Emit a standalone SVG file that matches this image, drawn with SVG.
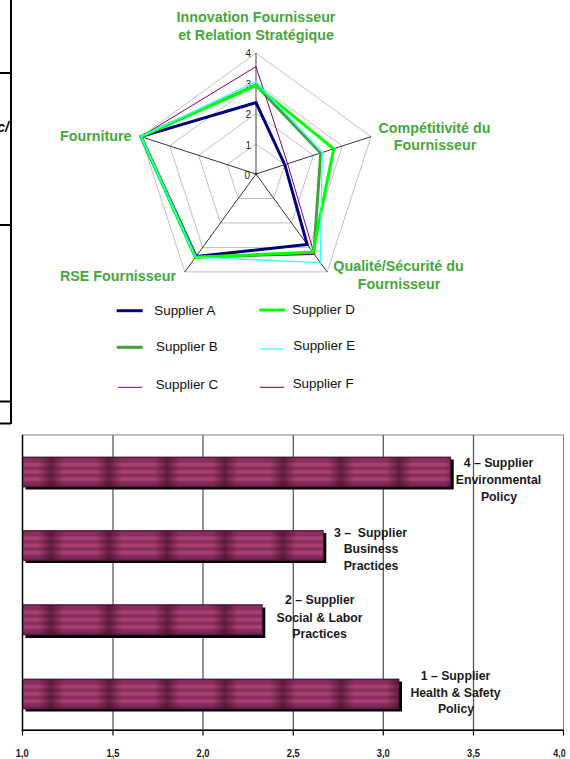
<svg xmlns="http://www.w3.org/2000/svg" width="570" height="759" viewBox="0 0 570 759">
<style>
.axlab{font-family:"Liberation Sans",Arial,sans-serif;font-weight:bold;font-size:14.3px;fill:#46A83A;text-anchor:middle}
.tick{font-family:"Liberation Sans",Arial,sans-serif;font-size:10px;fill:#222;text-anchor:end}
.leg{font-family:"Liberation Sans",Arial,sans-serif;font-size:13.4px;fill:#111}
.grid{fill:none;stroke:#c0c0c0;stroke-width:1}
.spoke{stroke:#000;stroke-width:0.8}
.ser{fill:none;stroke-linejoin:miter}
.blab{font-family:"Liberation Sans",Arial,sans-serif;font-weight:bold;font-size:12.3px;fill:#1a1a1a;text-anchor:middle}
.xlab{font-family:"Liberation Sans Narrow","Liberation Sans",Arial,sans-serif;font-weight:bold;font-size:11.5px;fill:#1a1a1a;text-anchor:middle}
.vg{stroke:#5a5a5a;stroke-width:1.3}
.frame{stroke:#000;stroke-width:2}
.bar{fill:url(#stripes);stroke:#4a1535;stroke-width:0.8}
.band{fill:url(#bands)}
.shadow{fill:#000}
</style>
<defs>
<linearGradient id="stripes" x1="0" y1="0" x2="0" y2="1">
<stop offset="0" stop-color="#5e1d42"/>
<stop offset="0.06" stop-color="#8a2e5f"/>
<stop offset="0.17" stop-color="#8a2e5f"/>
<stop offset="0.22" stop-color="#a8406f"/>
<stop offset="0.29" stop-color="#a8406f"/>
<stop offset="0.34" stop-color="#8a2e5f"/>
<stop offset="0.41" stop-color="#8a2e5f"/>
<stop offset="0.46" stop-color="#a8406f"/>
<stop offset="0.53" stop-color="#a8406f"/>
<stop offset="0.58" stop-color="#8a2e5f"/>
<stop offset="0.65" stop-color="#8a2e5f"/>
<stop offset="0.70" stop-color="#a8406f"/>
<stop offset="0.77" stop-color="#a8406f"/>
<stop offset="0.82" stop-color="#8a2e5f"/>
<stop offset="0.93" stop-color="#7a2855"/>
<stop offset="1" stop-color="#5e1d42"/>
</linearGradient>
<linearGradient id="bandGrad" x1="0" y1="0" x2="1" y2="0">
<stop offset="0" stop-color="#3a0c26" stop-opacity="0"/>
<stop offset="0.28" stop-color="#3a0c26" stop-opacity="0"/>
<stop offset="0.5" stop-color="#3a0c26" stop-opacity="0.6"/>
<stop offset="0.72" stop-color="#3a0c26" stop-opacity="0"/>
<stop offset="1" stop-color="#3a0c26" stop-opacity="0"/>
</linearGradient>
<pattern id="bands" patternUnits="userSpaceOnUse" x="22" y="0" width="58" height="40">
<rect width="58" height="40" fill="url(#bandGrad)"/>
</pattern>
</defs>

<rect width="570" height="759" fill="#fff"/>

<g id="left-table">
<line class="frame" x1="11" y1="0" x2="11" y2="424"/>
<line class="frame" x1="0" y1="73" x2="11" y2="73"/>
<line class="frame" x1="0" y1="225" x2="11" y2="225"/>
<line class="frame" x1="0" y1="401.5" x2="11" y2="401.5"/>
<line class="frame" x1="0" y1="423.5" x2="11" y2="423.5"/>
<text x="9" y="132" font-family="Liberation Sans, Arial, sans-serif" font-weight="bold" font-style="italic" font-size="14" text-anchor="end" fill="#000">c/</text>
</g>

<g id="radar-chart">
<g id="radar-grid">
<polygon class="grid" points="256,143.75 284.77,164.65 273.78,198.47 238.22,198.47 227.23,164.65"/>
<polygon class="grid" points="256,113.5 313.54,155.31 291.56,222.94 220.44,222.94 198.46,155.31"/>
<polygon class="grid" points="256,83.25 342.31,145.96 309.34,247.42 202.66,247.42 169.69,145.96"/>
<polygon class="grid" points="256,53 371.08,136.61 327.12,271.89 184.88,271.89 140.92,136.61"/>
<line class="spoke" x1="256" y1="174" x2="371.08" y2="136.61"/>
<line class="spoke" x1="256" y1="174" x2="327.12" y2="271.89"/>
<line class="spoke" x1="256" y1="174" x2="184.88" y2="271.89"/>
<line class="spoke" x1="256" y1="174" x2="140.92" y2="136.61"/>
<line x1="256" y1="174" x2="256" y2="53" stroke="#808080" stroke-width="1.5"/>
</g>
<g id="radar-ticks">
<text class="tick" x="250" y="178.5">0</text>
<text class="tick" x="251" y="148.5">1</text>
<text class="tick" x="251" y="118">2</text>
<text class="tick" x="251" y="87.5">3</text>
<text class="tick" x="251" y="57.3">4</text>
</g>
<g id="radar-series">
<polygon class="ser" stroke="#000080" stroke-width="3" points="256,102.6 284.8,164.7 307.2,244.5 196.1,256.5 140.9,136.6"/>
<polygon class="ser" stroke="#3FA33A" stroke-width="3" points="256,85.1 320.7,153 313.8,253.5 195.5,257.2 140.9,136.6"/>
<polygon class="ser" stroke="#800080" stroke-width="1" points="256,66.6 287.6,163.7 314.3,254.3 195.5,257.2 140.9,136.6"/>
<polygon class="ser" stroke="#00FF00" stroke-width="3" points="256,85.7 333.7,148.8 312.9,252.3 195.5,257.2 140.9,136.6"/>
<polygon class="ser" stroke="#33FFFF" stroke-width="1.3" points="256,81.7 322.2,152.5 320.4,262.6 195.5,257.2 140.9,136.6"/>
<circle cx="256" cy="174" r="1.3" fill="#800000"/>
</g>
<g id="radar-labels">
<text class="axlab" x="256" y="21.7">Innovation Fournisseur</text>
<text class="axlab" x="256" y="40">et Relation Stratégique</text>
<text class="axlab" x="434.5" y="132.7">Compétitivité du</text>
<text class="axlab" x="435" y="150">Fournisseur</text>
<text class="axlab" x="398.5" y="270.7">Qualité/Sécurité du</text>
<text class="axlab" x="399" y="288.5">Fournisseur</text>
<text class="axlab" x="60" y="140.7" style="text-anchor:start">Fourniture</text>
<text class="axlab" x="60" y="280.7" style="text-anchor:start">RSE Fournisseur</text>
</g>
</g>

<g id="legend">
<line x1="116.7" y1="310.7" x2="142.7" y2="310.7" stroke="#000080" stroke-width="3"/>
<text class="leg" x="154.3" y="314.5">Supplier A</text>
<line x1="116.7" y1="347.3" x2="142.7" y2="347.3" stroke="#3FA33A" stroke-width="3"/>
<text class="leg" x="156" y="351">Supplier B</text>
<line x1="118.3" y1="387.3" x2="142.3" y2="387.3" stroke="#800080" stroke-width="1"/>
<text class="leg" x="155.7" y="389">Supplier C</text>
<line x1="259.3" y1="310" x2="285" y2="310" stroke="#00FF00" stroke-width="3"/>
<text class="leg" x="292.3" y="313.5">Supplier D</text>
<line x1="260" y1="349" x2="284" y2="349" stroke="#33FFFF" stroke-width="1.3"/>
<text class="leg" x="293.3" y="350">Supplier E</text>
<line x1="260" y1="387.3" x2="284" y2="387.3" stroke="#800000" stroke-width="1"/>
<text class="leg" x="292.7" y="388">Supplier F</text>
</g>

<g id="bar-chart">
<rect x="22.5" y="435" width="541" height="295" fill="#fff" stroke="#808080" stroke-width="1"/>
<g id="bar-grid">
<line class="vg" x1="113" y1="435" x2="113" y2="730"/>
<line class="vg" x1="203" y1="435" x2="203" y2="730"/>
<line class="vg" x1="293.3" y1="435" x2="293.3" y2="730" stroke="#222"/>
<line class="vg" x1="383.3" y1="435" x2="383.3" y2="730"/>
<line class="vg" x1="473.5" y1="435" x2="473.5" y2="730"/>
</g>
<g id="bar-4">
<rect class="shadow" x="25.5" y="459.5" width="428.2" height="30"/>
<rect class="bar" x="22.5" y="457" width="428.2" height="30"/>
<rect class="band" x="22.5" y="457" width="428.2" height="30"/>
<text class="blab" x="498.5" y="466.7">4 – Supplier</text>
<text class="blab" x="498.5" y="484">Environmental</text>
<text class="blab" x="499" y="500.7">Policy</text>
</g>
<g id="bar-3">
<rect class="shadow" x="25.5" y="533" width="300.8" height="30"/>
<rect class="bar" x="22.5" y="530.5" width="300.8" height="30"/>
<rect class="band" x="22.5" y="530.5" width="300.8" height="30"/>
<text class="blab" x="370.5" y="536.7" xml:space="preserve">3 –  Supplier</text>
<text class="blab" x="371" y="553.3">Business</text>
<text class="blab" x="371" y="570">Practices</text>
</g>
<g id="bar-2">
<rect class="shadow" x="25.5" y="607.5" width="239.8" height="30.5"/>
<rect class="bar" x="22.5" y="604.7" width="239.8" height="30.3"/>
<rect class="band" x="22.5" y="604.7" width="239.8" height="30.3"/>
<text class="blab" x="319.8" y="604">2 – Supplier</text>
<text class="blab" x="319.6" y="621.7">Social &amp; Labor</text>
<text class="blab" x="319.6" y="638.3">Practices</text>
</g>
<g id="bar-1">
<rect class="shadow" x="25.5" y="681.5" width="376.5" height="30"/>
<rect class="bar" x="22.5" y="679" width="376.5" height="30"/>
<rect class="band" x="22.5" y="679" width="376.5" height="30"/>
<text class="blab" x="455.5" y="680">1 – Supplier</text>
<text class="blab" x="455.5" y="696.7">Health &amp; Safety</text>
<text class="blab" x="456" y="712.7">Policy</text>
</g>
<g id="bar-axes">
<line x1="22.5" y1="435" x2="22.5" y2="731" stroke="#000" stroke-width="1.5"/>
<line x1="21.8" y1="730.3" x2="564" y2="730.3" stroke="#000" stroke-width="1.5"/>
<path d="M22.5 730V735.5M113 730V735.5M203 730V735.5M293.3 730V735.5M383.3 730V735.5M473.5 730V735.5M563.5 730V735.5" stroke="#000" stroke-width="1.2"/>
</g>
<g id="bar-xlabels">
<text class="xlab" x="22.3" y="756.5" textLength="13" lengthAdjust="spacingAndGlyphs">1,0</text>
<text class="xlab" x="113" y="756.5" textLength="13" lengthAdjust="spacingAndGlyphs">1,5</text>
<text class="xlab" x="203" y="756.5" textLength="13" lengthAdjust="spacingAndGlyphs">2,0</text>
<text class="xlab" x="293.3" y="756.5" textLength="13" lengthAdjust="spacingAndGlyphs">2,5</text>
<text class="xlab" x="383.3" y="756.5" textLength="13" lengthAdjust="spacingAndGlyphs">3,0</text>
<text class="xlab" x="473.5" y="756.5" textLength="13" lengthAdjust="spacingAndGlyphs">3,5</text>
<text class="xlab" x="559.5" y="756.5" textLength="12.3" lengthAdjust="spacingAndGlyphs">4,0</text>
</g>
</g>
</svg>
